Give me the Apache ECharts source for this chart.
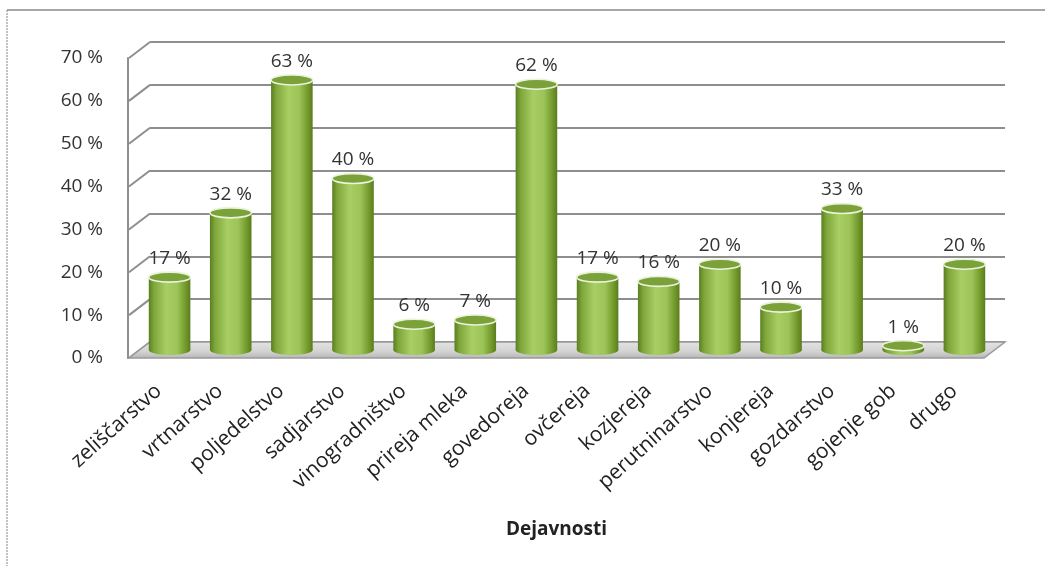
<!DOCTYPE html>
<html>
<head>
<meta charset="utf-8">
<script src="https://cdn.jsdelivr.net/npm/echarts@6/dist/echarts.min.js"></script>
<style>
  html, body { margin: 0; padding: 0; background: #ffffff; }
  #chart { width: 1045px; height: 566px; }
</style>
</head>
<body>
<div id="chart"></div>
<script>
// Share of farms engaged in each activity (%)
const categories = ['zeliščarstvo', 'vrtnarstvo', 'poljedelstvo', 'sadjarstvo', 'vinogradništvo',
  'prireja mleka', 'govedoreja', 'ovčereja', 'kozjereja', 'perutninarstvo', 'konjereja',
  'gozdarstvo', 'gojenje gob', 'drugo'];
const shares = [17, 32, 63, 40, 6, 7, 62, 17, 16, 20, 10, 33, 1, 20];
const yTicks = [0, 10, 20, 30, 40, 50, 60, 70];
const axisTitle = 'Dejavnosti';

// depth of the pseudo-3D box (back wall -> front edge)
const DX = 21, DY = 16;
const FONT = '"Open Sans", "DejaVu Sans", sans-serif';
const GRID_GRAY = '#8e8e8e';

const chart = echarts.init(document.getElementById('chart'), null, { renderer: 'canvas' });

const bodyFill = {
  type: 'linear', x: 0, y: 0, x2: 1, y2: 0,
  colorStops: [
    { offset: 0, color: '#5a7e1f' },
    { offset: 0.12, color: '#7ea63a' },
    { offset: 0.42, color: '#a8ce64' },
    { offset: 0.68, color: '#9cc457' },
    { offset: 0.9, color: '#709629' },
    { offset: 1, color: '#5a7c1d' }
  ]
};

// cylinder: rounded base, shaded body, flat top disc and a value label
function cylinder(params, api) {
  const i = api.value(0), v = api.value(1);
  const top = api.coord([i, v]);
  const base = api.coord([i, 0]);
  const w = api.size([1, 0])[0] * 0.68;
  const rx = w / 2, ry = w * 0.12;
  const cx = top[0];
  return {
    type: 'group',
    children: [
      { type: 'ellipse', shape: { cx: cx, cy: base[1], rx: rx, ry: ry }, style: { fill: bodyFill } },
      { type: 'rect', shape: { x: cx - rx, y: top[1], width: w, height: base[1] - top[1] }, style: { fill: bodyFill } },
      { type: 'ellipse', shape: { cx: cx, cy: top[1], rx: rx, ry: ry },
        style: { fill: '#7ba23a', stroke: '#eaf3da', lineWidth: 1.6 } },
      { type: 'text', style: { text: v + ' %', x: cx, y: top[1] - ry - 4, align: 'center',
        verticalAlign: 'bottom', font: '19px ' + FONT, fill: '#333333' } }
    ]
  };
}

// diagonal side-wall lines joining the back grid lines to the front axis
function wallLine(params, api) {
  const y = api.coord([0, api.value(1)])[1];
  const x0 = params.coordSys.x;
  return {
    type: 'line',
    shape: { x1: x0, y1: y, x2: x0 - DX, y2: y + DY },
    style: { stroke: GRID_GRAY, lineWidth: 2 }
  };
}

// floor plate under the cylinders
function floor(params, api) {
  const cs = params.coordSys;
  const y = api.coord([0, 0])[1];
  const xl = cs.x, xr = cs.x + cs.width;
  return {
    type: 'polygon',
    shape: { points: [[xl, y], [xr, y], [xr - DX, y + DY], [xl - DX, y + DY]] },
    style: {
      fill: { type: 'linear', x: 0, y: 0, x2: 0, y2: 1, colorStops: [
        { offset: 0, color: '#e4e4e4' }, { offset: 0.6, color: '#d2d2d2' }, { offset: 1, color: '#b4b4b4' }] },
      stroke: '#9a9a9a', lineWidth: 1.5
    }
  };
}

const option = {
  backgroundColor: '#ffffff',
  animation: false,
  graphic: [
    { type: 'line', shape: { x1: 7, y1: 10, x2: 1045, y2: 10 }, style: { stroke: '#8a8a8a', lineWidth: 1.5 } },
    { type: 'line', shape: { x1: 7, y1: 10, x2: 7, y2: 566 }, style: { stroke: '#9a9a9a', lineWidth: 1.2, lineDash: [2, 1] } }
  ],
  grid: [
    // back wall
    { left: 150, right: 40, top: 42, bottom: 224 },
    // cylinder plane
    { left: 139, right: 50, top: 50, bottom: 216 },
    // front edge (axis labels)
    { left: 128, right: 60, top: 58, bottom: 208 }
  ],
  xAxis: [
    { gridIndex: 0, type: 'category', data: categories, axisLine: { show: false }, axisTick: { show: false }, axisLabel: { show: false } },
    { gridIndex: 1, type: 'category', data: categories, axisLine: { show: false }, axisTick: { show: false }, axisLabel: { show: false } },
    {
      gridIndex: 2, type: 'category', data: categories,
      axisLine: { show: false }, axisTick: { show: false },
      axisLabel: { rotate: 42, margin: 30, fontSize: 21, fontFamily: FONT, color: '#222222' },
      name: axisTitle, nameLocation: 'middle', nameGap: 162,
      nameTextStyle: { fontSize: 19, fontWeight: 'bold', fontFamily: FONT, color: '#222222' }
    }
  ],
  yAxis: [
    {
      gridIndex: 0, type: 'value', min: 0, max: 70, interval: 10,
      axisLine: { show: false }, axisTick: { show: false }, axisLabel: { show: false },
      splitLine: { show: true, lineStyle: { color: GRID_GRAY, width: 2 } }
    },
    {
      gridIndex: 1, type: 'value', min: 0, max: 70, interval: 10,
      axisLine: { show: false }, axisTick: { show: false }, axisLabel: { show: false }, splitLine: { show: false }
    },
    {
      gridIndex: 2, type: 'value', min: 0, max: 70, interval: 10,
      axisLine: { show: true, lineStyle: { color: GRID_GRAY, width: 2 } },
      axisTick: { show: false }, splitLine: { show: false },
      axisLabel: { formatter: '{value} %', margin: 25, fontSize: 19, fontFamily: FONT, color: '#333333' }
    }
  ],
  series: [
    {
      type: 'custom', name: 'wall', xAxisIndex: 0, yAxisIndex: 0, z: 1, silent: true,
      renderItem: wallLine,
      data: yTicks.map(function (t) { return [0, t]; })
    },
    {
      type: 'custom', name: 'floor', xAxisIndex: 0, yAxisIndex: 0, z: 2, silent: true,
      renderItem: floor,
      data: [[0, 0]]
    },
    {
      type: 'custom', name: axisTitle, xAxisIndex: 1, yAxisIndex: 1, z: 3,
      renderItem: cylinder,
      data: shares.map(function (v, i) { return [i, v]; })
    }
  ]
};

chart.setOption(option);
</script>
</body>
</html>
